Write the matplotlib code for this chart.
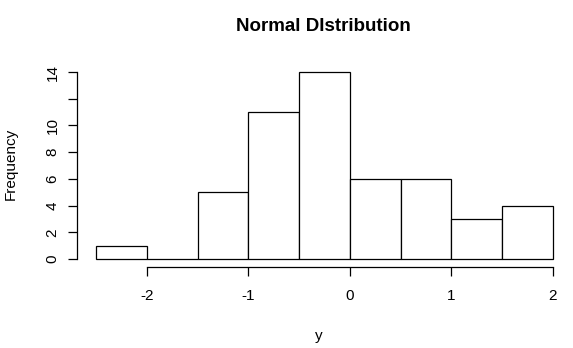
import matplotlib.pyplot as plt

plt.rcParams['font.family'] = ['Liberation Sans', 'DejaVu Sans']

# histogram of y: bin edges and counts
bin_edges = [-2.5, -2.0, -1.5, -1.0, -0.5, 0.0, 0.5, 1.0, 1.5, 2.0]
counts = [1, 0, 5, 11, 14, 6, 6, 3, 4]
xticks = [-2, -1, 0, 1, 2]
yticks = [0, 2, 4, 6, 8, 10, 12, 14]
ytick_labels = ['0', '2', '4', '6', '8', '10', '', '14']

fig = plt.figure(figsize=(5.73, 3.48), dpi=100)
ax = fig.add_axes([0.1344, 0.2328, 0.9773 - 0.1344, 0.8276 - 0.2328])

lefts = bin_edges[:-1]
widths = [b - a for a, b in zip(bin_edges[:-1], bin_edges[1:])]
ax.bar(lefts, counts, width=widths, align='edge', color='white',
       edgecolor='black', linewidth=0.9)

ax.set_xlim(-2.687, 2.069)
ax.set_ylim(-0.599, 14.9)

for s in ['top', 'right']:
    ax.spines[s].set_visible(False)
ax.spines['left'].set_bounds(0, 14)
ax.spines['bottom'].set_bounds(-2, 2)
ax.spines['left'].set_linewidth(0.9)
ax.spines['bottom'].set_linewidth(0.9)

ax.set_xticks(xticks)
ax.set_xticklabels([str(t) for t in xticks])
ax.set_yticks(yticks)
ax.set_yticklabels(ytick_labels, rotation=90, va='center')
ax.tick_params(axis='both', length=6.5, width=0.9, labelsize=11)
ax.tick_params(axis='x', pad=9)
ax.tick_params(axis='y', pad=6)

ax.set_xlabel('y', fontsize=11, labelpad=19)
ax.set_ylabel('Frequency', fontsize=11, labelpad=20)
fig.text(0.565, 0.925, 'Normal DIstribution', fontsize=13.5,
         fontweight='bold', ha='center', va='center')

plt.savefig('out.png', dpi=100)
